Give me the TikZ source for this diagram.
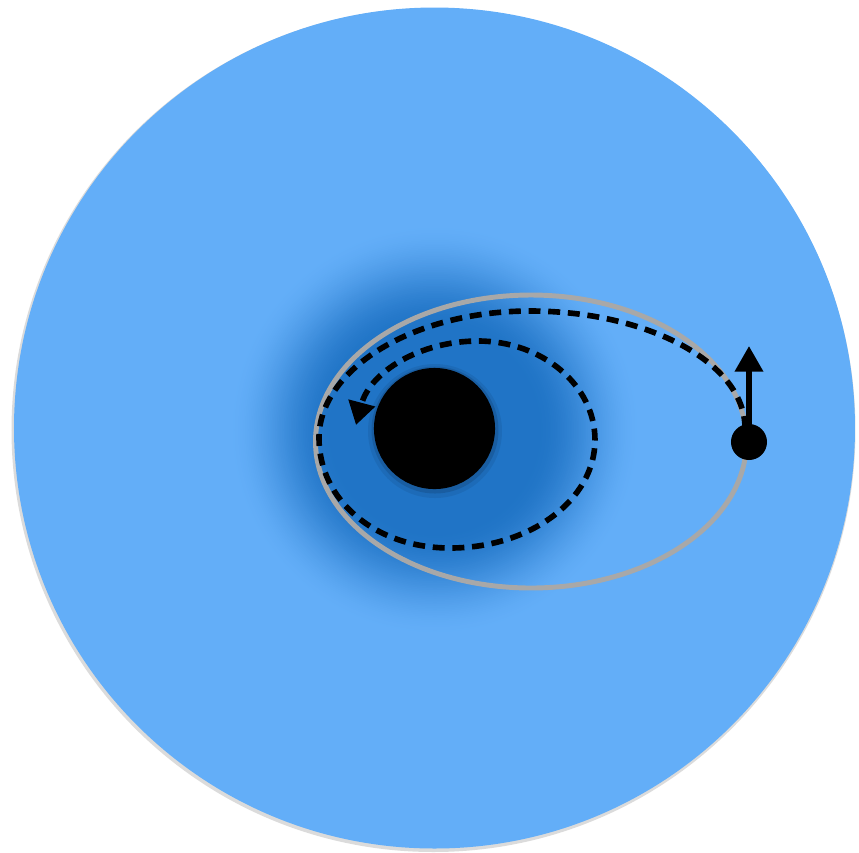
\documentclass[tikz,border=0pt]{standalone}
\usetikzlibrary{arrows.meta}
\definecolor{ltblue}{RGB}{99,174,248}
\definecolor{dkblue}{RGB}{32,116,198}
\definecolor{orbitgray}{RGB}{168,168,168}
\tikzset{
  disc/.style={circle, fill=black, inner sep=0pt},
  orbit/.style={draw=orbitgray, line width=1.4pt},
  spiral/.style={line width=1.6pt, dash pattern=on 3.4pt off 2.2pt, -{Triangle[length=6.5pt,width=7.5pt]}},
  velocity/.style={line width=1.6pt, -{Triangle[length=7.3pt,width=7.8pt]}}
}
\begin{document}
\begin{tikzpicture}[x=0.01cm, y=-0.01cm]
  \useasboundingbox (0,0) rectangle (859,853);
  % outer disc
  \fill[black!14] (433.5,430) circle [radius=422];
  \fill[ltblue] (434.5,428) circle [radius=420.5];
  % dark glow (smooth radial fade)
  \foreach \i in {0,...,60}{
    \pgfmathsetmacro{\rr}{207-\i*1.75}
    \pgfmathsetmacro{\tt}{\i/60}
    \pgfmathsetmacro{\pp}{100*\tt*\tt*(3-2*\tt)}
    \fill[dkblue!\pp!ltblue] (435,430) circle [radius=\rr];
  }
  % orbit ellipse
  \draw[orbit] (531,441.5) ellipse [x radius=215.5, y radius=146.5];
  % central body with soft shadow
  \fill[black, opacity=0.07] (435,431) circle [radius=67];
  \fill[black, opacity=0.12] (435,430) circle [radius=63.5];
  \node[disc, minimum size=1.21cm] (bh) at (434.5,428.5) {};
  % spiral path
  \draw[spiral] (745,428) .. controls (745,363) and (648,311) .. (530,311)
    .. controls (412,311) and (319,370) .. (319,438)
    .. controls (319,500) and (375,548) .. (450,548)
    .. controls (530,548) and (595,500) .. (595,440)
    .. controls (595,385) and (542,341) .. (478,341)
    .. controls (420,341) and (370,372) .. (356,425);
  % orbiting body and velocity
  \node[disc, minimum size=0.36cm] (body) at (749,442) {};
  \coordinate (vtip) at (749,346);
  \draw[velocity] (body.center) -- (vtip);
\end{tikzpicture}
\end{document}
